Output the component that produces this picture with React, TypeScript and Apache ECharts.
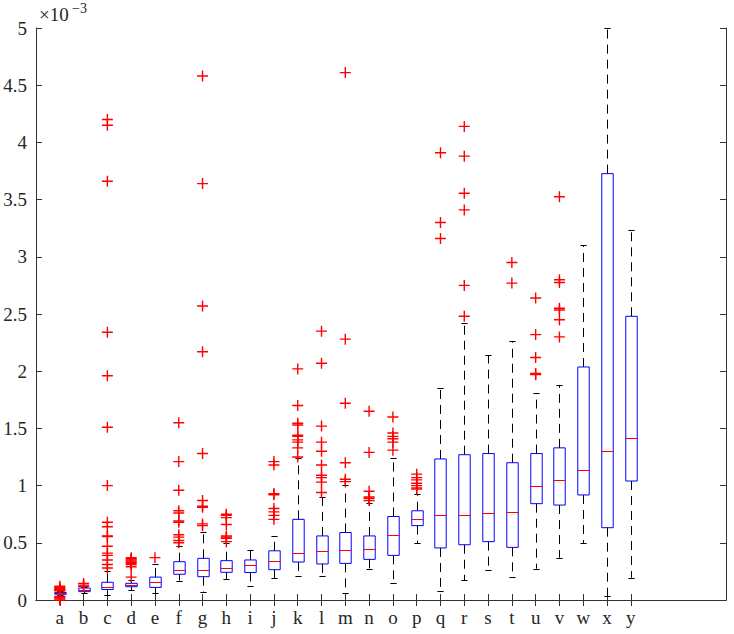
import React, { useEffect, useRef } from 'react';
import * as echarts from 'echarts';

// Values are in units of 10^-3
const categories = ['a','b','c','d','e','f','g','h','i','j','k','l','m','n','o','p','q','r','s','t','u','v','w','x','y'];
const trailingEmptySlots = 4;

const whiskerLow = [0.04, 0.06, 0.044, 0.087, 0.058, 0.17, 0.067, 0.18, 0.122, 0.19, 0.213, 0.207, 0.064, 0.27, 0.151, 0.495, 0.079, 0.172, 0.262, 0.204, 0.274, 0.37, 0.495, 0.038, 0.195];
const quart1 = [0.05, 0.073, 0.092, 0.116, 0.11, 0.225, 0.204, 0.242, 0.24, 0.265, 0.332, 0.315, 0.32, 0.355, 0.39, 0.65, 0.455, 0.483, 0.51, 0.46, 0.842, 0.83, 0.918, 0.632, 1.04];
const medians = [0.058, 0.09, 0.11, 0.13, 0.155, 0.262, 0.262, 0.283, 0.31, 0.34, 0.414, 0.425, 0.437, 0.45, 0.57, 0.708, 0.743, 0.743, 0.758, 0.772, 0.994, 1.05, 1.134, 1.3, 1.413];
const quart3 = [0.066, 0.105, 0.155, 0.146, 0.2, 0.335, 0.364, 0.344, 0.35, 0.43, 0.705, 0.56, 0.59, 0.56, 0.73, 0.78, 1.233, 1.27, 1.28, 1.2, 1.28, 1.33, 2.037, 3.727, 2.48];
const whiskerHigh = [0.075, 0.11, 0.25, 0.175, 0.315, 0.47, 0.594, 0.495, 0.437, 0.56, 1.24, 0.9, 1.005, 0.845, 1.24, 0.93, 1.85, 2.42, 2.14, 2.26, 1.807, 1.88, 3.1, 5.0, 3.234];
const outliers = [
  [0.0, 0.01, 0.02, 0.025, 0.03, 0.08, 0.085, 0.09, 0.095, 0.1, 0.11, 0.12],
  [0.12, 0.13, 0.145],
  [0.28, 0.31, 0.35, 0.39, 0.41, 0.47, 0.555, 0.56, 0.64, 0.68, 1.0, 1.51, 1.96, 2.34, 3.66, 4.15, 4.2],
  [0.2, 0.29, 0.31, 0.32, 0.33, 0.34, 0.35, 0.36, 0.37],
  [0.37],
  [0.5, 0.52, 0.55, 0.57, 0.68, 0.69, 0.76, 0.78, 0.96, 1.21, 1.55],
  [0.65, 0.665, 0.81, 0.82, 0.87, 1.28, 2.17, 2.57, 3.64, 4.58],
  [0.51, 0.54, 0.55, 0.56, 0.66, 0.72, 0.74, 0.75],
  [],
  [0.705, 0.74, 0.77, 0.8, 0.92, 0.93, 1.18, 1.21],
  [1.25, 1.33, 1.38, 1.4, 1.43, 1.44, 1.53, 1.545, 1.7, 2.02],
  [0.94, 1.03, 1.07, 1.09, 1.18, 1.3, 1.38, 1.52, 2.07, 2.35],
  [1.035, 1.055, 1.2, 1.72, 2.28, 4.61],
  [0.87, 0.89, 0.9, 0.95, 1.29, 1.65],
  [1.31, 1.38, 1.41, 1.43, 1.46, 1.6],
  [0.97, 0.98, 1.0, 1.02, 1.05, 1.07, 1.1],
  [3.16, 3.3, 3.91],
  [2.48, 2.75, 3.41, 3.555, 3.88, 4.14],
  [],
  [2.77, 2.95],
  [1.97, 1.98, 2.12, 2.32, 2.64],
  [2.3, 2.45, 2.535, 2.55, 2.775, 2.8, 3.525],
  [],
  [],
  [],
];
const yTickValues = [0, 0.5, 1, 1.5, 2, 2.5, 3, 3.5, 4, 4.5, 5];

const FONT = 'Liberation Serif';
const AXIS_COLOR = '#333333';
const TEXT_COLOR = '#262626';

export default function App() {
  const ref = useRef<HTMLDivElement>(null);
  useEffect(() => {
    if (!ref.current) return;
    const chart = echarts.init(ref.current, null, { renderer: 'svg' });
    const axisData = ['', ...categories, ...Array(trailingEmptySlots).fill('')];
    const boxData = categories.map((_, i) => [i + 1, whiskerLow[i], quart1[i], medians[i], quart3[i], whiskerHigh[i]]);
    const outlierData: number[][] = [];
    outliers.forEach((list, i) => list.forEach((v) => outlierData.push([i + 1, v])));
    const tickShown = (index: number) => index >= 1 && index <= categories.length;
    const yMin = yTickValues[0];
    const yMax = yTickValues[yTickValues.length - 1];
    const yInterval = yTickValues[1] - yTickValues[0];

    const crisp = (v: number) => Math.round(v) + 0.5;

    chart.setOption({
      animation: false,
      textStyle: { fontFamily: FONT },
      grid: { left: 36, right: 8, top: 28, bottom: 34, containLabel: false },
      xAxis: [
        {
          type: 'category', data: axisData, boundaryGap: false, position: 'bottom',
          axisLine: { lineStyle: { color: AXIS_COLOR, width: 1 } },
          axisTick: { inside: true, length: 6, interval: tickShown, lineStyle: { color: AXIS_COLOR } },
          axisLabel: { interval: 0, color: TEXT_COLOR, fontFamily: FONT, fontSize: 19, margin: 8 },
          splitLine: { show: false },
        },
        {
          type: 'category', data: axisData, boundaryGap: false, position: 'top',
          axisLine: { lineStyle: { color: AXIS_COLOR, width: 1 } },
          axisTick: { inside: true, length: 6, interval: tickShown, lineStyle: { color: AXIS_COLOR } },
          axisLabel: { show: false },
          splitLine: { show: false },
        },
      ],
      yAxis: [
        {
          type: 'value', min: yMin, max: yMax, interval: yInterval, position: 'left',
          axisLine: { show: true, lineStyle: { color: AXIS_COLOR, width: 1 } },
          axisTick: { show: true, inside: true, length: 6, lineStyle: { color: AXIS_COLOR } },
          axisLabel: { color: TEXT_COLOR, fontFamily: FONT, fontSize: 19, margin: 9, formatter: (v: number) => String(Math.round(v * 10) / 10) },
          splitLine: { show: false },
        },
        {
          type: 'value', min: yMin, max: yMax, interval: yInterval, position: 'right',
          axisLine: { show: true, lineStyle: { color: AXIS_COLOR, width: 1 } },
          axisTick: { show: true, inside: true, length: 6, lineStyle: { color: AXIS_COLOR } },
          axisLabel: { show: false },
          splitLine: { show: false },
        },
      ],
      graphic: [
        { type: 'text', left: 39, top: 5, style: { text: '×10', fontFamily: FONT, fontSize: 19, fill: TEXT_COLOR } },
        { type: 'text', left: 72, top: 1, style: { text: '−3', fontFamily: FONT, fontSize: 14, fill: TEXT_COLOR } },
      ],
      series: [
        {
          type: 'custom',
          xAxisIndex: 0, yAxisIndex: 0,
          data: boxData,
          encode: { x: 0, y: [1, 2, 3, 4, 5] },
          renderItem: (params: any, api: any) => {
            const x = api.value(0);
            const lo = api.coord([x, api.value(1)]);
            const q1 = api.coord([x, api.value(2)]);
            const md = api.coord([x, api.value(3)]);
            const q3 = api.coord([x, api.value(4)]);
            const hi = api.coord([x, api.value(5)]);
            const step = api.coord([x + 1, 0])[0] - lo[0];
            const bw = step * 0.48;
            const cw = step * 0.26;
            const cx = crisp(lo[0]);
            const whiskerStyle = { stroke: '#000', lineWidth: 1, lineDash: [9, 6], fill: null };
            const capStyle = { stroke: '#000', lineWidth: 1 };
            return {
              type: 'group',
              children: [
                { type: 'line', shape: { x1: cx, y1: q3[1], x2: cx, y2: hi[1] }, style: whiskerStyle },
                { type: 'line', shape: { x1: cx, y1: q1[1], x2: cx, y2: lo[1] }, style: whiskerStyle },
                { type: 'line', shape: { x1: cx - cw / 2, y1: crisp(hi[1]), x2: cx + cw / 2, y2: crisp(hi[1]) }, style: capStyle },
                { type: 'line', shape: { x1: cx - cw / 2, y1: crisp(lo[1]), x2: cx + cw / 2, y2: crisp(lo[1]) }, style: capStyle },
                { type: 'rect', shape: { x: cx - bw / 2, y: q3[1], width: bw, height: q1[1] - q3[1] }, style: { fill: 'none', stroke: '#0000ff', lineWidth: 1 } },
                { type: 'line', shape: { x1: cx - bw / 2, y1: crisp(md[1]), x2: cx + bw / 2, y2: crisp(md[1]) }, style: { stroke: '#ff0000', lineWidth: 1 } },
              ],
            };
          },
          z: 2,
        },
        {
          type: 'scatter',
          xAxisIndex: 0, yAxisIndex: 0,
          data: outlierData,
          symbol: 'path://M0,6L12,6M6,0L6,12',
          symbolSize: 11,
          itemStyle: { color: 'none', borderColor: '#ff0000', borderWidth: 1.4, opacity: 1 },
          z: 3,
        },
      ],
    });
    return () => chart.dispose();
  }, []);
  return <div ref={ref} style={{ position: 'fixed', left: 0, top: 0, width: 734, height: 634, background: '#fff' }} />;
}
